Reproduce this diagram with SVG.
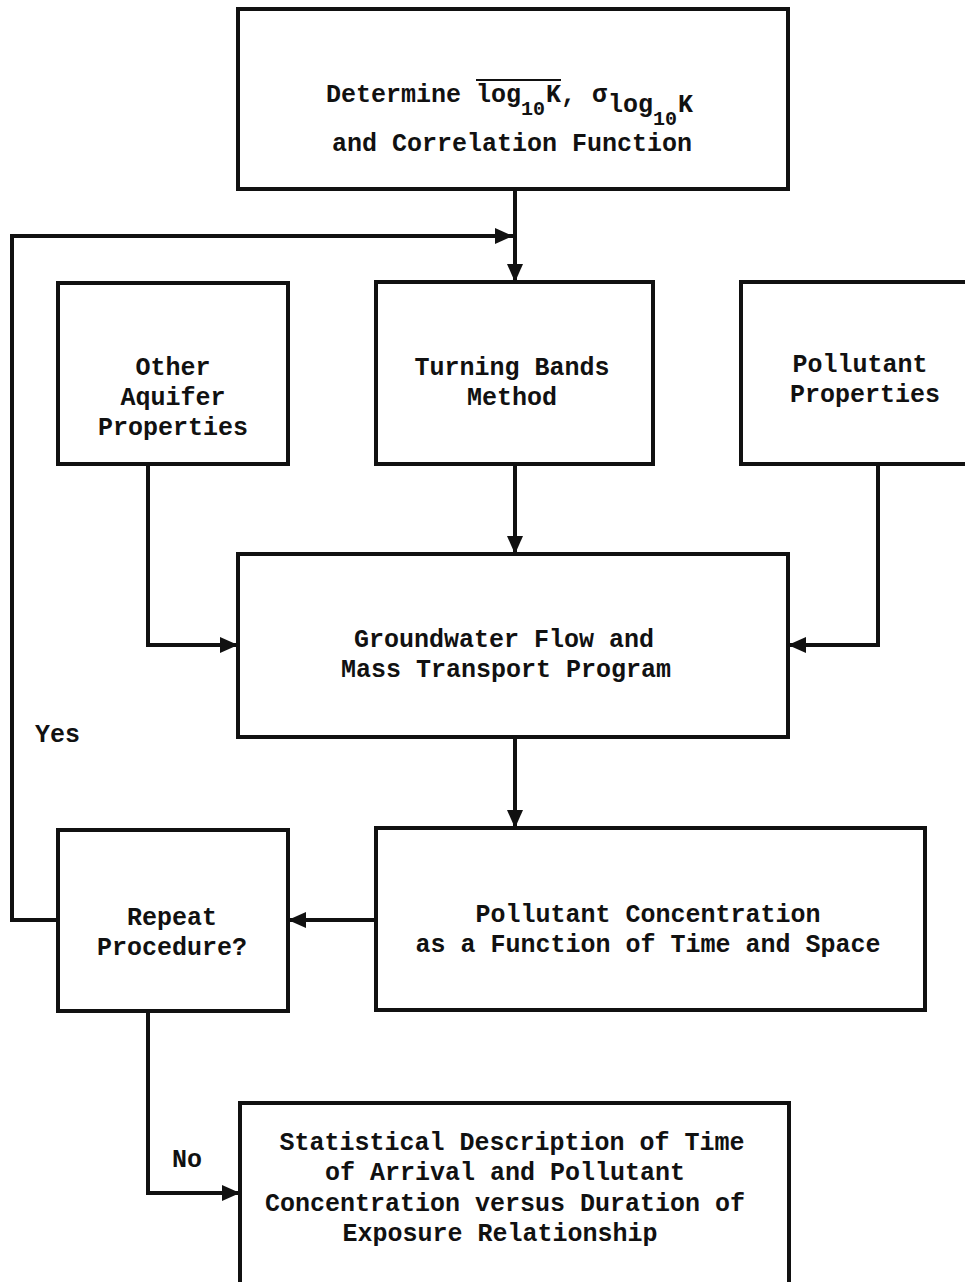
<svg xmlns="http://www.w3.org/2000/svg" width="965" height="1282" viewBox="0 0 965 1282">
<style>
.box{fill:none;stroke:#111;stroke-width:4;stroke-linejoin:miter}
.ln{fill:none;stroke:#111;stroke-width:4}
.t{font-family:"Liberation Mono","Courier New",monospace;font-size:25px;font-weight:bold;fill:#111}
.c{text-anchor:middle}
.s{font-size:20px}
</style>
<defs>
<marker id="ah" viewBox="0 0 18 16" refX="18" refY="8" markerWidth="18" markerHeight="16" orient="auto" markerUnits="userSpaceOnUse">
<path d="M0,0 L18,8 L0,16 z" fill="#111"/>
</marker>
</defs>
<rect width="965" height="1282" fill="#fff"/>

<g id="n-determine">
<rect class="box" x="238" y="9" width="550" height="180"/>
<text class="t" x="326" y="102">Determine</text>
<text class="t" x="476" y="102">log</text>
<text class="t s" x="521" y="115">10</text>
<text class="t" x="546" y="102">K,</text>
<text class="t" x="592" y="102">σ</text>
<text class="t" x="608" y="112">log</text>
<text class="t s" x="653" y="125">10</text>
<text class="t" x="678" y="112">K</text>
<line x1="476" y1="80" x2="561" y2="80" stroke="#111" stroke-width="2"/>
<text class="t c" x="512" y="151">and Correlation Function</text>
</g>

<g id="n-other">
<rect class="box" x="58" y="283" width="230" height="181"/>
<text class="t c" x="173" y="375">Other</text>
<text class="t c" x="173" y="405">Aquifer</text>
<text class="t c" x="173" y="435">Properties</text>
</g>

<g id="n-turning">
<rect class="box" x="376" y="282" width="277" height="182"/>
<text class="t c" x="512" y="375">Turning Bands</text>
<text class="t c" x="512" y="405">Method</text>
</g>

<g id="n-pollprop">
<rect class="box" x="741" y="282" width="230" height="182"/>
<text class="t c" x="860" y="372">Pollutant</text>
<text class="t c" x="865" y="402">Properties</text>
</g>

<g id="n-groundwater">
<rect class="box" x="238" y="554" width="550" height="183"/>
<text class="t c" x="504" y="647">Groundwater Flow and</text>
<text class="t c" x="506" y="677">Mass Transport Program</text>
</g>

<g id="n-conc">
<rect class="box" x="376" y="828" width="549" height="182"/>
<text class="t c" x="648" y="922">Pollutant Concentration</text>
<text class="t c" x="648" y="952">as a Function of Time and Space</text>
</g>

<g id="n-repeat">
<rect class="box" x="58" y="830" width="230" height="181"/>
<text class="t c" x="172" y="925">Repeat</text>
<text class="t c" x="172" y="955">Procedure?</text>
</g>

<g id="n-stat">
<rect class="box" x="240" y="1103" width="549" height="190"/>
<text class="t c" x="512" y="1150">Statistical Description of Time</text>
<text class="t c" x="505" y="1180">of Arrival and Pollutant</text>
<text class="t c" x="505" y="1211">Concentration versus Duration of</text>
<text class="t c" x="500" y="1241">Exposure Relationship</text>
</g>

<g id="connectors">
<line class="ln" x1="515" y1="189" x2="515" y2="282" marker-end="url(#ah)"/>
<polyline class="ln" points="58,920 12,920 12,236 513,236" marker-end="url(#ah)"/>
<line class="ln" x1="515" y1="464" x2="515" y2="554" marker-end="url(#ah)"/>
<polyline class="ln" points="148,464 148,645 238,645" marker-end="url(#ah)"/>
<polyline class="ln" points="878,464 878,645 788,645" marker-end="url(#ah)"/>
<line class="ln" x1="515" y1="737" x2="515" y2="828" marker-end="url(#ah)"/>
<line class="ln" x1="376" y1="920" x2="288" y2="920" marker-end="url(#ah)"/>
<polyline class="ln" points="148,1011 148,1193 240,1193" marker-end="url(#ah)"/>
<text class="t" x="35" y="742">Yes</text>
<text class="t" x="172" y="1167">No</text>
</g>
</svg>
